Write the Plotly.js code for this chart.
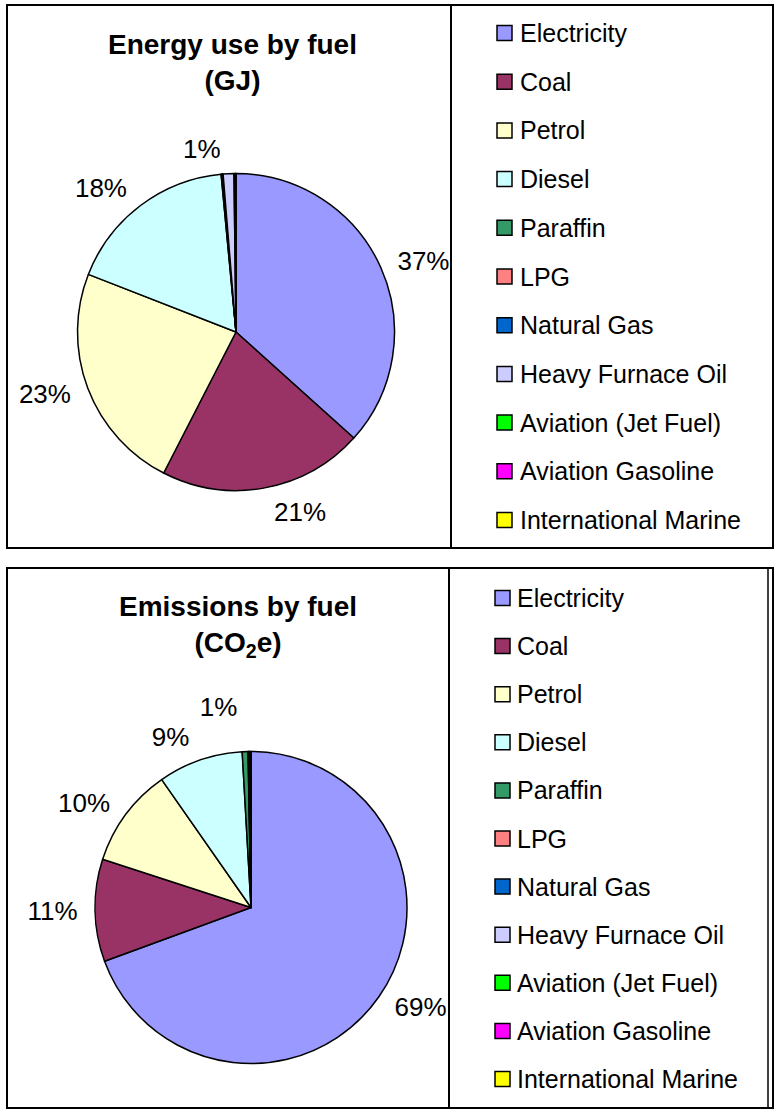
<!DOCTYPE html>
<html><head><meta charset="utf-8">
<script src="https://cdn.plot.ly/plotly-3.0.1.min.js"></script>
<style>html,body{margin:0;padding:0;background:#fff} path.textline{display:none}</style>
</head><body><div id="chart" style="width:775px;height:1111px"></div>
<script>
// ---- data ----
const fuels = ['Electricity','Coal','Petrol','Diesel','Paraffin','LPG','Natural Gas','Heavy Furnace Oil','Aviation (Jet Fuel)','Aviation Gasoline','International Marine'];
const fuelColors = ['#9999FF','#993366','#FFFFCC','#CCFFFF','#339966','#FF8080','#0066CC','#CCCCFF','#00FF00','#FF00FF','#FFFF00'];
const energyShare = [36.7, 20.9, 23.4, 17.6, 0.1, 0.05, 0.05, 1.1, 0.15, 0.02, 0.03];
const emissionShare = [69.4, 10.6, 10.3, 8.8, 0.6, 0.04, 0.03, 0.08, 0.12, 0.01, 0.02];
const energyTitle = '<b>Energy use by fuel</b><br><b>(GJ)</b>';
const emissionTitle = '<b>Emissions by fuel</b><br><b>(CO<sub>2</sub>e)</b>';

// ---- layout helpers ----
const W = 775, H = 1111;
const px = x => x / W;
const py = y => 1 - y / H;
const FONT = 'Liberation Sans, Arial, sans-serif';
const LABEL_GAP = 10; // labels sit a little further out than the pie rim

function labelTemplates(vals) {
  const tot = vals.reduce((a, b) => a + b, 0);
  return vals.map(v => (v / tot >= 0.005 ? '%{percent:.0%}' : ''));
}

function domainOf(box, grow) {
  return { x: [px(box.l - grow), px(box.r + grow)], y: [py(box.b + grow), py(box.t - grow)] };
}

// visible pie: slices only
function pieTrace(vals, box) {
  return {
    type: 'pie', labels: fuels, values: vals, sort: false, direction: 'clockwise', rotation: 0,
    marker: { colors: fuelColors, line: { color: '#000', width: 1.5 } },
    textinfo: 'none', showlegend: false, hoverinfo: 'label+percent',
    domain: domainOf(box, 0)
  };
}
// transparent companion pie carrying the percentage labels
function labelTrace(vals, box) {
  return {
    type: 'pie', labels: fuels, values: vals, sort: false, direction: 'clockwise', rotation: 0,
    marker: { colors: fuels.map(() => 'rgba(0,0,0,0)'), line: { width: 0 } },
    texttemplate: labelTemplates(vals), textinfo: 'percent', textposition: 'outside',
    outsidetextfont: { family: FONT, size: 26, color: '#000' },
    showlegend: false, hoverinfo: 'skip',
    domain: domainOf(box, LABEL_GAP)
  };
}

const topBox = { l: 77.5, r: 394.5, t: 173.5, b: 490.5 };
const botBox = { l: 95, r: 407, t: 751.5, b: 1063.5 };
const traces = [
  pieTrace(energyShare, topBox),
  pieTrace(emissionShare, botBox),
  labelTrace(energyShare, topBox),
  labelTrace(emissionShare, botBox)
];

const shapes = [];
const annotations = [];
function rect(x0, y0, x1, y1, w, fill) {
  shapes.push({ type: 'rect', xref: 'paper', yref: 'paper', x0: px(x0), x1: px(x1), y0: py(y0), y1: py(y1),
    line: { color: '#000', width: w }, fillcolor: fill || 'rgba(0,0,0,0)', layer: 'above' });
}
function vline(x, y0, y1, w) {
  shapes.push({ type: 'line', xref: 'paper', yref: 'paper', x0: px(x), x1: px(x), y0: py(y0), y1: py(y1),
    line: { color: '#000', width: w } });
}

// panel frames
rect(7, 5, 773, 548, 2);
vline(451, 5, 548, 2);
rect(7, 568, 773, 1108, 2);
vline(449, 568, 1108, 2);
vline(768, 568, 1108, 1.5);

// titles
annotations.push({ xref: 'paper', yref: 'paper', x: px(232), y: py(62), xanchor: 'center', yanchor: 'middle',
  text: energyTitle, showarrow: false, font: { family: FONT, size: 28, color: '#000' } });
annotations.push({ xref: 'paper', yref: 'paper', x: px(238), y: py(626), xanchor: 'center', yanchor: 'middle',
  text: emissionTitle, showarrow: false, font: { family: FONT, size: 28, color: '#000' } });

// legends
function legend(symX, textX, y0, step) {
  fuels.forEach((name, i) => {
    const yc = y0 + i * step;
    rect(symX, yc - 7.5, symX + 15, yc + 7.5, 1.5, fuelColors[i]);
    annotations.push({ xref: 'paper', yref: 'paper', x: px(textX), y: py(yc), xanchor: 'left', yanchor: 'middle',
      text: name, showarrow: false, font: { family: FONT, size: 25, color: '#000' } });
  });
}
legend(497, 518, 33, 48.7);
legend(495, 515, 598, 48.1);

const layout = {
  width: W, height: H,
  margin: { l: 0, r: 0, t: 0, b: 0 },
  paper_bgcolor: '#fff',
  showlegend: false,
  shapes: shapes,
  annotations: annotations,
  font: { family: FONT, color: '#000' }
};

Plotly.newPlot('chart', traces, layout, { staticPlot: true, displayModeBar: false });
</script>
</body></html>
